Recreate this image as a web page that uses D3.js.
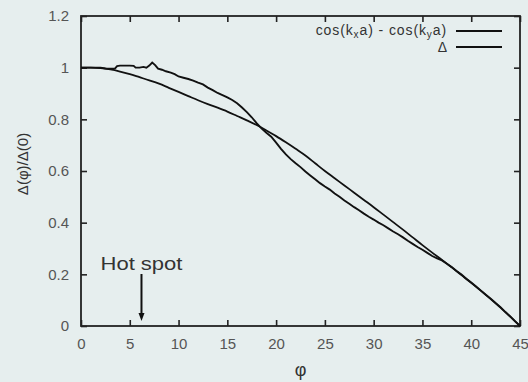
<!DOCTYPE html>
<html><head><meta charset="utf-8">
<script src="https://cdn.jsdelivr.net/npm/d3@7/dist/d3.min.js"></script>
<style>
html,body{margin:0;padding:0;background:#e6eeee;}
svg{display:block;}
text{font-family:"Liberation Sans",Arial,sans-serif;}
</style></head><body>
<script>
// ---- data ----
const xTicks = [0,5,10,15,20,25,30,35,40,45];
const yTicks = [0,0.2,0.4,0.6,0.8,1,1.2];
const yTickLabels = ["0","0.2","0.4","0.6","0.8","1","1.2"];
const seriesNames = ["cos(kxa) - cos(kya)", "Δ"];
const hotSpotPhi = 6.2;

const cosPhi = [0,1,2,3,4,5,6,7,8,9,10,11,12,13,14,15,16,17,18,19,20,21,22,23,24,25,26,27,28,29,30,31,32,33,34,35,36,37,38,39,40,41,42,43,44,45];
const cosVal = [1.000,1.000,0.998,0.993,0.985,0.975,0.963,0.951,0.938,0.922,0.906,0.890,0.874,0.859,0.845,0.830,0.813,0.796,0.778,0.757,0.735,0.711,0.686,0.660,0.630,0.600,0.572,0.544,0.516,0.488,0.460,0.431,0.402,0.373,0.343,0.313,0.284,0.256,0.227,0.197,0.167,0.136,0.104,0.071,0.036,0.000];

const deltaPhi = [0,1,2,2.5,3,3.5,3.7,4,4.5,5,5.4,5.6,6,6.4,6.7,7.0,7.3,7.6,7.9,8.3,8.7,9.2,9.6,10,10.5,11,11.5,12,12.5,13,13.5,14,14.5,15,15.5,16,16.5,17,17.5,18,18.5,19,19.5,20,20.5,21,21.5,22,22.5,23,23.5,24,24.5,25,25.5,26,26.5,27,27.5,28,28.5,29,29.5,30,30.5,31,31.5,32,32.5,33,33.5,34,34.5,35,35.5,36,36.5,37,37.5,38,38.5,39,39.5,40,40.5,41,41.5,42,42.5,43,43.5,44,44.5,45];
const deltaVal = [1.000,1.000,1.000,0.997,0.996,0.997,1.006,1.008,1.008,1.008,1.007,1.000,1.000,1.003,1.000,1.008,1.020,1.010,0.996,0.992,0.986,0.981,0.975,0.966,0.961,0.956,0.950,0.942,0.935,0.923,0.913,0.902,0.894,0.885,0.875,0.862,0.846,0.828,0.808,0.785,0.765,0.748,0.733,0.710,0.686,0.664,0.646,0.630,0.615,0.598,0.583,0.568,0.553,0.540,0.528,0.513,0.500,0.486,0.473,0.460,0.448,0.435,0.423,0.412,0.400,0.390,0.378,0.366,0.355,0.343,0.330,0.318,0.306,0.295,0.283,0.271,0.262,0.254,0.241,0.228,0.213,0.199,0.183,0.168,0.153,0.137,0.121,0.106,0.089,0.073,0.054,0.037,0.018,0.000];

// ---- chart ----
const W = 528, H = 382;
const m = {left:81, right:8, top:16, bottom:56};
const svg = d3.select("body").append("svg").attr("width",W).attr("height",H);
svg.append("rect").attr("width",W).attr("height",H).attr("fill","#e6eeee");

const x = d3.scaleLinear().domain([0,45]).range([m.left, W-m.right]);
const y = d3.scaleLinear().domain([0,1.2]).range([H-m.bottom, m.top]);

const axisColor = "#222";
const labelColor = "#555";
const tl = 6;

// axes
const gx = svg.append("g").attr("transform",`translate(0,${y(0)})`)
  .call(d3.axisBottom(x).tickValues(xTicks).tickSizeInner(-tl).tickSizeOuter(0).tickPadding(12).tickFormat(d3.format("d")));
const gxt = svg.append("g").attr("transform",`translate(0,${y(1.2)})`)
  .call(d3.axisTop(x).tickValues(xTicks).tickSizeInner(-tl).tickSizeOuter(0).tickFormat(""));
const gy = svg.append("g").attr("transform",`translate(${x(0)},0)`)
  .call(d3.axisLeft(y).tickValues(yTicks).tickSizeInner(-tl).tickSizeOuter(0).tickPadding(12).tickFormat((d,i)=>yTickLabels[i]));
const gyr = svg.append("g").attr("transform",`translate(${x(45)},0)`)
  .call(d3.axisRight(y).tickValues(yTicks).tickSizeInner(-tl).tickSizeOuter(0).tickFormat(""));
[gx,gxt,gy,gyr].forEach(g=>{
  g.select(".domain").remove();
  g.selectAll(".tick line").attr("stroke",axisColor).attr("stroke-width",1.6);
  g.selectAll(".tick text").attr("fill",labelColor).attr("font-size",15).attr("font-family","Liberation Sans, Arial, sans-serif");
});
svg.append("rect").attr("x",x(0)).attr("y",y(1.2)).attr("width",x(45)-x(0)).attr("height",y(0)-y(1.2))
  .attr("fill","none").attr("stroke",axisColor).attr("stroke-width",1.8);

// lines
const cosData = cosPhi.map((p,i)=>[p,cosVal[i]]);
const deltaData = deltaPhi.map((p,i)=>[p,deltaVal[i]]);
svg.append("path").datum(cosData).attr("d",d3.line().x(d=>x(d[0])).y(d=>y(d[1])).curve(d3.curveMonotoneX))
  .attr("fill","none").attr("stroke","#111").attr("stroke-width",1.8);
svg.append("path").datum(deltaData).attr("d",d3.line().x(d=>x(d[0])).y(d=>y(d[1])))
  .attr("fill","none").attr("stroke","#111").attr("stroke-width",1.9);

// legend
const lx1 = 456, lx2 = 502;
const leg1 = svg.append("text").attr("x",447).attr("y",35).attr("text-anchor","end").attr("font-size",14)
  .attr("letter-spacing",0.9).attr("fill","#333");
leg1.append("tspan").text("cos(k");
leg1.append("tspan").attr("font-size",10).attr("dy",3).text("x");
leg1.append("tspan").attr("dy",-3).text("a) - cos(k");
leg1.append("tspan").attr("font-size",10).attr("dy",3).text("y");
leg1.append("tspan").attr("dy",-3).text("a)");
svg.append("line").attr("x1",lx1).attr("x2",lx2).attr("y1",31).attr("y2",31).attr("stroke","#111").attr("stroke-width",1.8);
svg.append("text").attr("x",447).attr("y",52).attr("text-anchor","end").attr("font-size",14).attr("fill","#333").text(seriesNames[1]);
svg.append("line").attr("x1",lx1).attr("x2",lx2).attr("y1",47).attr("y2",47).attr("stroke","#111").attr("stroke-width",1.8);

// axis titles
svg.append("text").attr("x",x(22.5)).attr("y",376).attr("text-anchor","middle").attr("font-size",18).attr("fill","#333").text("φ");
svg.append("text").attr("transform","translate(28,164) rotate(-90)").attr("text-anchor","middle").attr("font-size",15).attr("fill","#333").text("Δ(φ)/Δ(0)");

// hot spot
svg.append("text").attr("x",x(hotSpotPhi)).attr("y",270).attr("text-anchor","middle").attr("font-size",19).attr("fill","#333")
  .attr("textLength",82).attr("lengthAdjust","spacingAndGlyphs").text("Hot spot");
svg.append("line").attr("x1",x(hotSpotPhi)).attr("x2",x(hotSpotPhi)).attr("y1",274).attr("y2",315).attr("stroke","#111").attr("stroke-width",2);
svg.append("path").attr("d",`M${x(hotSpotPhi)-3},313 L${x(hotSpotPhi)+3},313 L${x(hotSpotPhi)},321 Z`).attr("fill","#111");
</script>
</body></html>
